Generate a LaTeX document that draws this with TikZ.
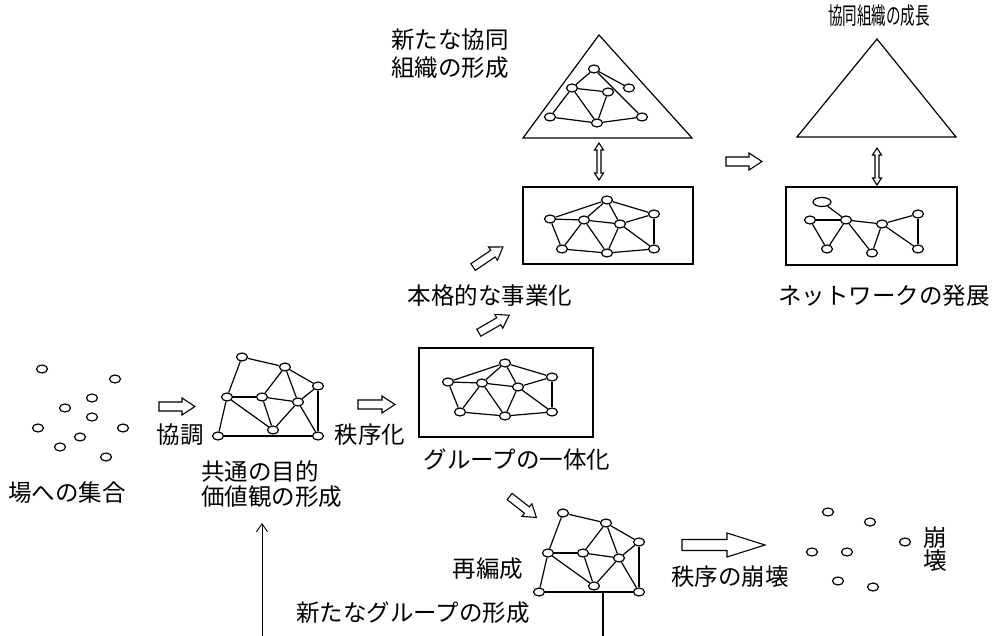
\documentclass[tikz,border=0pt]{standalone}
\usepackage{fontspec}
\setmainfont{Noto Sans CJK JP}
\usetikzlibrary{shapes.geometric,arrows.meta}
\tikzset{
  x=1pt, y=-1pt,
  dot/.style={ellipse, draw, fill=white, line width=1.2pt, minimum width=11pt, minimum height=8pt, inner sep=0pt},
  lbl/.style={inner sep=0pt, font=\fontsize{23.5}{25}\selectfont},
  edge/.style={line width=1.2pt},
  frame/.style={draw, line width=1.3pt, inner sep=0pt},
  pics/blockarrow/.style n args={4}{code={
    \draw[line width=1.1pt, fill=white] ({-#1/2},{-#2}) -- ({#1/2-#4},{-#2}) -- ({#1/2-#4},{-#3}) -- ({#1/2},0)
      -- ({#1/2-#4},{#3}) -- ({#1/2-#4},{#2}) -- ({-#1/2},{#2}) -- cycle;}},
  pics/dblarrow/.style n args={4}{code={
    \draw[line width=1.1pt, fill=white] ({-#1/2},0) -- ({-#1/2+#4},{#3}) -- ({-#1/2+#4},{#2}) -- ({#1/2-#4},{#2})
      -- ({#1/2-#4},{#3}) -- ({#1/2},0) -- ({#1/2-#4},{-#3}) -- ({#1/2-#4},{-#2}) -- ({-#1/2+#4},{-#2})
      -- ({-#1/2+#4},{-#3}) -- cycle;}},
}
\begin{document}
\begin{tikzpicture}
\useasboundingbox (0,0) rectangle (997,636);

% ---------- scattered dots (left) ----------
\foreach \i/\x/\y in {1/42/369,2/115/379,3/92/398,4/65/408,5/92/417,6/38/428,7/123/428,8/80/437,9/60/447,10/106/457}
  \node[dot] (sa\i) at (\x,\y) {};
\node[lbl] (tA) at (67,493) {場への集合};

% ---------- arrow 協調 ----------
\pic (arA) at (177,406.5) {blockarrow={36}{4.5}{8.5}{13}};
\node[lbl] (tB) at (180,435) {協調};

% ---------- network 1 and reorganised network ----------
\foreach \p/\ox/\oy in {na/0/0, nb/321/156}{
  \node[dot] (\p A) at (242+\ox,357+\oy) {};
  \node[dot] (\p B) at (285+\ox,367+\oy) {};
  \node[dot] (\p C) at (318+\ox,386+\oy) {};
  \node[dot] (\p D) at (227+\ox,397+\oy) {};
  \node[dot] (\p E) at (262+\ox,397+\oy) {};
  \node[dot] (\p F) at (298+\ox,402+\oy) {};
  \node[dot] (\p G) at (218+\ox,436+\oy) {};
  \node[dot] (\p H) at (273+\ox,430+\oy) {};
  \node[dot] (\p I) at (318+\ox,436+\oy) {};
}
\foreach \p in {na,nb}
  \foreach \a/\b in {A/B,A/D,B/C,B/E,B/F,C/F,C/I,D/E,D/G,D/H,E/F,E/H,F/H,F/I,G/I}
    \draw[edge] (\p\a) -- (\p\b);

\node[lbl, align=left, anchor=west] (tC) at (201,484) {共通の目的\\価値観の形成};

% ---------- arrow 秩序化 ----------
\pic (arB) at (376.5,404.5) {blockarrow={37}{4.5}{8.5}{13}};
\node[lbl] (tD) at (370,435) {秩序化};

% ---------- box 1 ----------
\node[frame, minimum width=174pt, minimum height=89pt] (box1) at (506,392.5) {};
\node[lbl] (tE) at (517,460) {グループの一体化};
% ---------- box 2 ----------
\node[frame, minimum width=170pt, minimum height=77pt] (box2) at (608,225.5) {};

\foreach \p/\ox/\oy in {pa/0/0, pb/102/-163}{
  \node[dot] (\p T) at (505+\ox,363+\oy) {};
  \node[dot] (\p L) at (448+\ox,382+\oy) {};
  \node[dot] (\p M) at (482+\ox,383+\oy) {};
  \node[dot] (\p R) at (518+\ox,387+\oy) {};
  \node[dot] (\p E) at (552+\ox,377+\oy) {};
  \node[dot] (\p P) at (460+\ox,412+\oy) {};
  \node[dot] (\p Q) at (505+\ox,416+\oy) {};
  \node[dot] (\p S) at (552+\ox,412+\oy) {};
}
\foreach \p in {pa,pb}
  \foreach \a/\b in {L/T,L/M,L/P,M/T,M/R,M/P,M/Q,T/E,T/R,R/E,R/S,R/Q,P/Q,Q/S,E/S}
    \draw[edge] (\p\a) -- (\p\b);

\pic[rotate=30] (arC) at (494,324) {blockarrow={35}{4}{8}{12}};
\node[lbl] (tF) at (490,296) {本格的な事業化};
\pic[rotate=34] (arD) at (488,257) {blockarrow={36}{4}{8}{12}};

% ---------- triangle 1 ----------
\draw[line width=1.2pt] (599,35) -- (523,138) -- (692,138) -- cycle;
\node[dot] (sT) at (594,69) {};
\node[dot] (sM) at (572,88) {};
\node[dot] (sR) at (608,92) {};
\node[dot] (sE) at (629,88) {};
\node[dot] (sP) at (550,117) {};
\node[dot] (sQ) at (597,123) {};
\node[dot] (sS) at (642,117) {};
\foreach \a/\b in {T/M,T/E,T/S,M/R,M/P,M/Q,R/Q,P/Q,Q/S}
  \draw[edge] (s\a) -- (s\b);
\node[lbl, align=left, anchor=west, font=\fontsize{23.5}{28}\selectfont] (tG) at (391,54) {新たな協同\\組織の形成};
\pic[rotate=90] (dbA) at (599,161.5) {dblarrow={37}{2}{4.5}{7}};

% ---------- arrow to the right ----------
\pic (arE) at (744,161.5) {blockarrow={36}{4.5}{8.5}{13}};

% ---------- triangle 2 and box 3 ----------
\node[lbl] (tH) at (879,16) {\scalebox{0.62}[1]{協同組織の成長}};
\draw[line width=1.2pt] (877,39) -- (797,137) -- (956,137) -- cycle;
\pic[rotate=90] (dbB) at (877,166.5) {dblarrow={37}{2}{4.5}{7}};
\node[frame, minimum width=171pt, minimum height=78pt] (box3) at (871.5,226) {};
\node[dot, minimum width=18pt, minimum height=9pt] (wO) at (822,202) {};
\node[dot] (w1) at (810,220) {};
\node[dot] (w2) at (846,220) {};
\node[dot] (w3) at (882,224) {};
\node[dot] (w4) at (918,214) {};
\node[dot] (w5) at (827,249) {};
\node[dot] (w6) at (872,253) {};
\node[dot] (w7) at (918,249) {};
\foreach \a/\b in {O/2,1/2,1/5,5/2,2/6,2/3,3/6,3/4,3/7,4/7}
  \draw[edge] (w\a) -- (w\b);
\node[lbl] (tI) at (884,296) {ネットワークの発展};

% ---------- reorganisation ----------
\pic[rotate=-38] (arF) at (523,507) {blockarrow={34}{4}{8}{12}};
\node[lbl] (tJ) at (488,569) {再編成};
\node[lbl] (tK) at (413,613) {新たなグループの形成};
\coordinate (vr0) at (603,592);
\coordinate (vr1) at (603,636);
\draw[edge] (vr0) -- (vr1);
\coordinate (vl0) at (262,636);
\coordinate (vl1) at (262,523);
\draw[line width=0.9pt, -{Straight Barb[length=8pt,width=11pt]}] (vl0) -- (vl1);

% ---------- collapse ----------
\pic (arG) at (723.5,545) {blockarrow={83}{5.5}{12}{38}};
\node[lbl] (tL) at (730,577) {秩序の崩壊};
\foreach \i/\x/\y in {1/828/512,2/870/522,3/905/542,4/812/552,5/847/552,6/838/581,7/873/587}
  \node[dot] (sb\i) at (\x,\y) {};
\node[lbl, align=center, font=\fontsize{23.5}{21}\selectfont] (tM) at (935,549) {崩\\壊};
\end{tikzpicture}
\end{document}
